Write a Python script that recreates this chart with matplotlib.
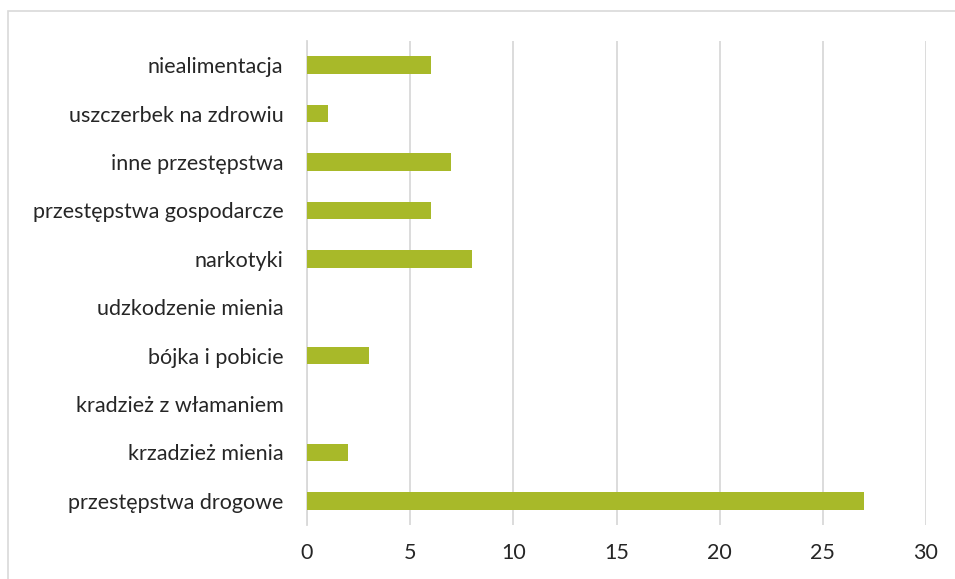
import numpy as np
import matplotlib.pyplot as plt
from matplotlib.patches import Rectangle

categories = ["przestępstwa drogowe", "krzadzież mienia", "kradzież z włamaniem",
              "bójka i pobicie", "udzkodzenie mienia", "narkotyki",
              "przestępstwa gospodarcze", "inne przestępstwa",
              "uszczerbek na zdrowiu", "niealimentacja"]
values = [27, 2, 0, 3, 0, 8, 6, 7, 1, 6]
xticks = [0, 5, 10, 15, 20, 25, 30]

plt.rcParams['font.family'] = ['Lato', 'DejaVu Sans']

W, H = 955, 579
fig = plt.figure(figsize=(W / 100, H / 100), dpi=100)
ax = fig.add_axes([307 / W, 1 - 525 / H, (926 - 307) / W, (525 - 41) / H])

# outer chart border (cut off at right and bottom)
fig.patches.append(Rectangle((8 / W, -0.05), 1.1, 1 - 11 / H + 0.05,
                             transform=fig.transFigure, fill=False,
                             edgecolor='#d9d9d9', linewidth=1.2))

ylocs = np.arange(len(categories))
ax.barh(ylocs, values, height=0.36, color='#a8b929', zorder=3)

ax.set_xlim(0, 30)
ax.set_ylim(-0.5, len(categories) - 0.5)
ax.set_xticks(xticks)
ax.set_yticks(ylocs)
ax.set_yticklabels(categories)
ax.xaxis.grid(True, color='#d9d9d9', linewidth=1.3)
ax.tick_params(length=0, labelsize=15.5, colors='#262626')
ax.tick_params(axis='y', pad=17)
ax.tick_params(axis='x', pad=13)
for side in ['top', 'right', 'bottom']:
    ax.spines[side].set_visible(False)
ax.spines['left'].set_color('#d9d9d9')
ax.spines['left'].set_linewidth(1.3)

fig.savefig('out.png', dpi=100)
